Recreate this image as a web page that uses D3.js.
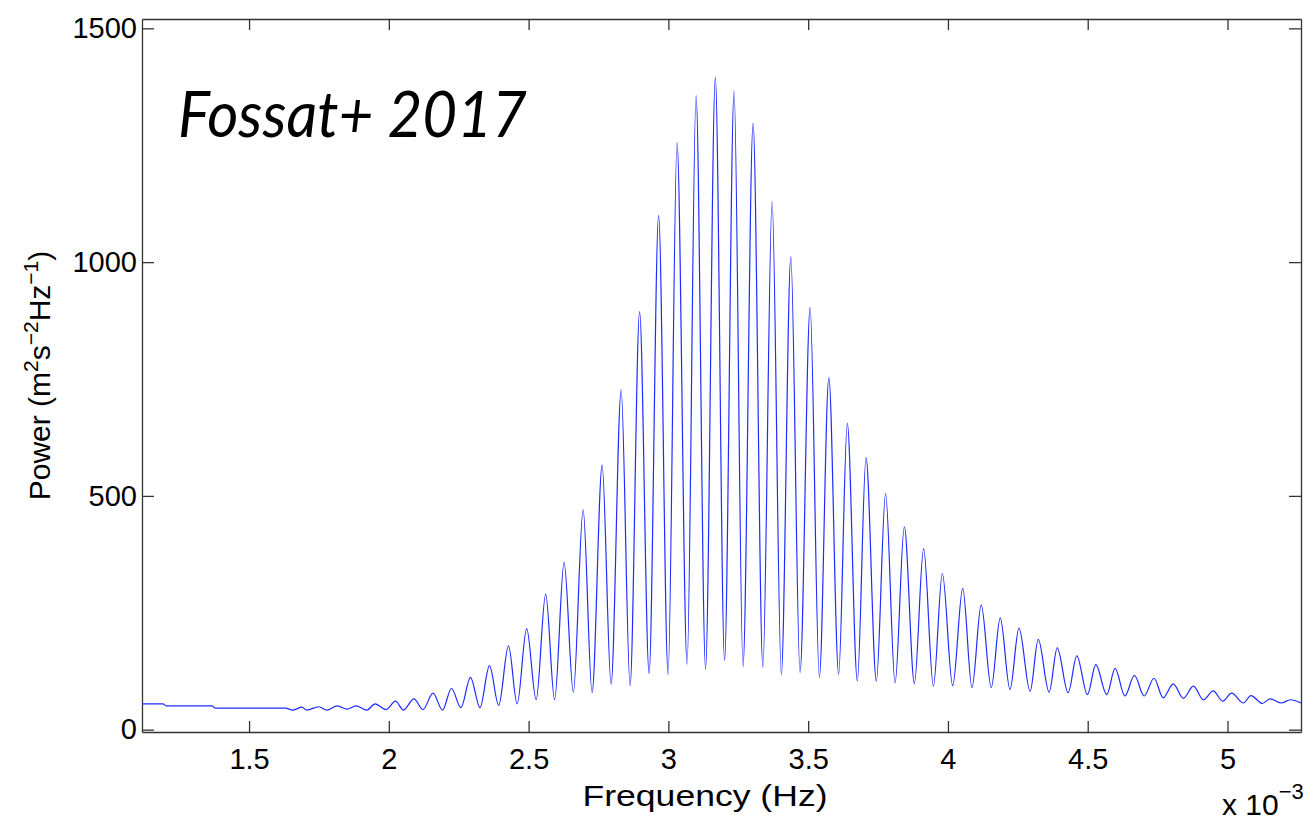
<!DOCTYPE html>
<html>
<head>
<meta charset="utf-8">
<script src="https://cdn.jsdelivr.net/npm/d3@7"></script>
<style>
  body { margin: 0; background: #fff; }
  svg { display: block; }
  .axis text { font-family: "Liberation Sans", Arial, sans-serif; font-size: 29px; fill: #000; }
  .lbl { font-family: "Liberation Sans", Arial, sans-serif; font-size: 30px; fill: #000; }
  .spec { fill: none; stroke: #1f2bff; stroke-width: 1.2; }
</style>
</head>
<body>
<div id="graph"></div>
<script>

// frequency in units of 1e-3 Hz
var freq = [1.117, 1.192, 1.203, 1.368, 1.378, 1.629,
    1.657, 1.689, 1.706, 1.750, 1.778, 1.816, 1.850, 1.883, 1.921, 1.951,
    1.990, 2.024, 2.052, 2.090, 2.122, 2.158, 2.192, 2.224, 2.258, 2.292,
    2.326, 2.360, 2.393, 2.428, 2.459, 2.493, 2.527, 2.561, 2.593, 2.627,
    2.660, 2.695, 2.727, 2.763, 2.795, 2.831, 2.863, 2.897, 2.931, 2.965,
    2.999, 3.031, 3.067, 3.099, 3.133, 3.168, 3.201, 3.235, 3.267, 3.303,
    3.338, 3.371, 3.404, 3.438, 3.471, 3.507, 3.540, 3.574, 3.609, 3.640,
    3.676, 3.707, 3.744, 3.777, 3.811, 3.844, 3.880, 3.913, 3.948, 3.980,
    4.017, 4.053, 4.086, 4.119, 4.155, 4.187, 4.222, 4.254, 4.294, 4.323,
    4.362, 4.391, 4.430, 4.461, 4.499, 4.529, 4.568, 4.598, 4.633, 4.667,
    4.702, 4.737, 4.770, 4.806, 4.842, 4.878, 4.914, 4.949, 4.983, 5.015,
    5.057, 5.084, 5.125, 5.152, 5.194, 5.224, 5.263];

// power (m^2 s^-2 Hz^-1)
var power = [55, 55, 51, 51, 46, 46,
    42, 48, 42, 49, 42, 51, 44, 51, 42, 55,
    43, 61, 42, 66, 43, 78, 42, 88, 47, 112,
    47, 137, 52, 179, 55, 216, 64, 290, 64, 358,
    80, 470, 79, 566, 97, 727, 94, 894, 120, 1100,
    118, 1255, 140, 1356, 130, 1395, 148, 1366, 135, 1297,
    133, 1130, 118, 1012, 122, 903, 112, 753, 118, 655,
    104, 582, 104, 505, 100, 434, 99, 387, 93, 334,
    94, 302, 90, 267, 90, 239, 86, 217, 82, 193,
    80, 175, 79, 158, 75, 139, 75, 131, 72, 116,
    72, 110, 68, 98, 67, 93, 64, 83, 61, 78,
    57, 73, 56, 66, 57, 64, 57];

var xTicks = [1.5, 2, 2.5, 3, 3.5, 4, 4.5, 5];
var yTicks = [0, 500, 1000, 1500];

var data = freq.map(function(f, i) { return {f: f, p: power[i]}; });

var W = 1315, H = 823;
var plotL = 142, plotR = 1301, plotT = 19, plotB = 732;

var svg = d3.select("#graph").append("svg")
    .attr("width", W)
    .attr("height", H);

var xScale = d3.scaleLinear()
    .domain([1.117, 5.263])
    .range([plotL, plotR]);

var yScale = d3.scaleLinear()
    .domain([-5, 1520])
    .range([plotB, plotT]);

// axes, ticks pointing inward on all four sides
svg.append("g").attr("class", "axis")
    .attr("transform", "translate(0," + plotB + ")")
    .call(d3.axisBottom(xScale).tickValues(xTicks).tickSizeInner(-11).tickSizeOuter(0).tickPadding(16)
        .tickFormat(d3.format("")));
svg.append("g").attr("class", "axis")
    .attr("transform", "translate(0," + plotT + ")")
    .call(d3.axisTop(xScale).tickValues(xTicks).tickSizeInner(-11).tickSizeOuter(0).tickFormat(""));
svg.append("g").attr("class", "axis")
    .attr("transform", "translate(" + plotL + ",0)")
    .call(d3.axisLeft(yScale).tickValues(yTicks).tickSizeInner(-12).tickSizeOuter(0).tickPadding(5)
        .tickFormat(d3.format("")));
svg.append("g").attr("class", "axis")
    .attr("transform", "translate(" + plotR + ",0)")
    .call(d3.axisRight(yScale).tickValues(yTicks).tickSizeInner(-12).tickSizeOuter(0).tickFormat(""));

svg.selectAll(".axis .domain").attr("stroke", "#333").attr("stroke-width", 1.3);
svg.selectAll(".axis .tick line").attr("stroke", "#333").attr("stroke-width", 1.3);

// spectrum
var line = d3.line()
    .x(function(d) { return xScale(d.f); })
    .y(function(d) { return yScale(d.p); })
    .curve(d3.curveMonotoneX);

svg.append("path")
    .datum(data)
    .attr("class", "spec")
    .attr("d", line);

// labels
svg.append("text").attr("class", "lbl")
    .attr("x", 705).attr("y", 806)
    .attr("text-anchor", "middle")
    .attr("font-size", 32)
    .attr("textLength", 245)
    .attr("lengthAdjust", "spacingAndGlyphs")
    .text("Frequency (Hz)");

var yl = svg.append("text").attr("class", "lbl")
    .attr("transform", "translate(50," + ((plotT + plotB) / 2) + ") rotate(-90)")
    .attr("text-anchor", "middle");
yl.append("tspan").text("Power (m");
yl.append("tspan").attr("dy", -12).attr("font-size", 21).text("2");
yl.append("tspan").attr("dy", 12).text("s");
yl.append("tspan").attr("dy", -12).attr("font-size", 21).text("\u22122");
yl.append("tspan").attr("dy", 12).text("Hz");
yl.append("tspan").attr("dy", -12).attr("font-size", 21).text("\u22121");
yl.append("tspan").attr("dy", 12).text(")");

var mult = svg.append("text").attr("class", "lbl")
    .attr("x", 1222).attr("y", 815);
mult.append("tspan").text("x 10");
mult.append("tspan").attr("dy", -16).attr("font-size", 22).text("\u22123");

svg.append("text")
    .attr("x", 178).attr("y", 137)
    .attr("font-family", "Lato, 'Open Sans', sans-serif")
    .attr("font-style", "italic")
    .attr("font-size", 64)
    .attr("textLength", 349)
    .attr("lengthAdjust", "spacingAndGlyphs")
    .attr("fill", "#000")
    .text("Fossat+ 2017");

</script>
</body>
</html>
